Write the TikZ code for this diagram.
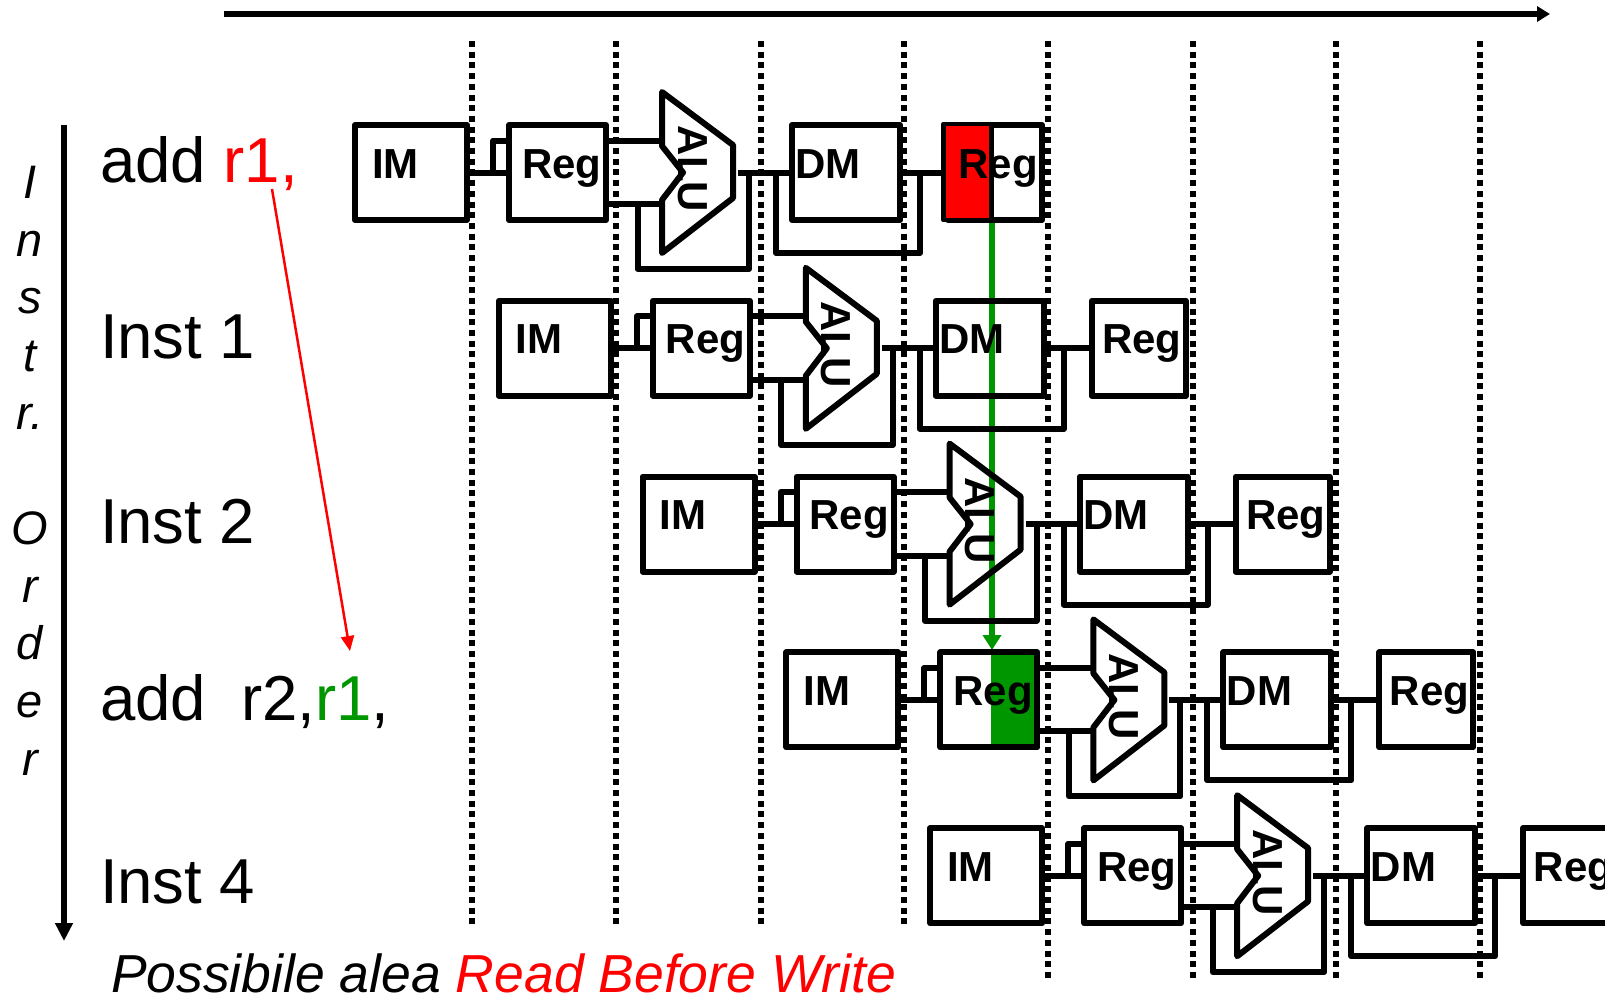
\documentclass[tikz,border=0pt]{standalone}
\usepackage{fontspec}
\setmainfont{Liberation Sans}
\usetikzlibrary{arrows.meta}
\definecolor{wred}{RGB}{255,0,0}
\definecolor{rgreen}{RGB}{0,150,0}
\begin{document}
\begin{tikzpicture}[x=1pt, y=-1pt, line width=6pt, line join=round,
    stage/.style = {draw, inner sep=0pt, minimum height=95pt},
    lab/.style = {anchor=base west, inner sep=0pt, font=\fontsize{42}{42}\selectfont\bfseries},
    instr/.style = {anchor=base west, inner sep=0pt, font=\fontsize{63.5}{64}\selectfont},
    clk/.style = {line width=6pt, dash pattern=on 6pt off 4.7pt}]
      \clip (0,0) rectangle (1605,996);
      % time and order
      \coordinate (t0) at (224,14);
      \coordinate (t1) at (1550,14);
      \coordinate (o0) at (64,125);
      \coordinate (o1) at (64,941);
      \draw[-{Triangle[length=13pt,width=15pt]}] (t0) -- (t1);
      \draw[-{Triangle[length=18pt,width=17pt]}] (o0) -- (o1);
      \node[inner sep=0pt, align=center, font=\fontsize{47}{57.7}\selectfont\itshape] (order) at (30,470.7)
        {I\\n\\s\\t\\r.\\\mbox{}\\O\\r\\d\\e\\r};
      \foreach \c/\x/\e in {1/472/926,2/616/926,3/760.5/926,4/904/926,5/1048/978,6/1192.5/978,7/1336/978,8/1480/978} {
        \coordinate (ca\c) at (\x,41);
        \coordinate (cb\c) at (\x,\e);
        \draw[clk] (ca\c) -- (cb\c);
      }
      % read half and data path
      \node[fill=rgreen, minimum width=49pt, minimum height=92pt, inner sep=0pt] (rd) at (1015.5,700) {};
      \coordinate (g0) at (992,222);
      \coordinate (g1) at (992,650);
      \draw[color=rgreen, -{Triangle[length=15pt,width=18pt]}] (g0) -- (g1);
      % five pipelines
      \foreach \r/\dx/\dy in {1/0/0, 2/143.8/175.8, 3/287.6/351.6, 4/431.4/527.4, 5/575.2/703.2} {
        \begin{scope}[shift={(\dx,\dy)}]
          \node[stage, minimum width=112pt] (IM\r) at (411,172.5) {};
          \node[stage, minimum width=97pt] (Reg\r) at (557.5,172.5) {};
          \node[stage, minimum width=108pt] (DM\r) at (846,172.5) {};
          \node[stage, minimum width=94pt] (Wb\r) at (995,172.5) {};
          \draw (662,92) -- (733,145) -- (733,198) -- (662,253) -- (662,200) -- (683,172.5) -- (662,146) -- cycle;
          \coordinate (in\r) at (662,140.5);
          \coordinate (ib\r) at (662,204);
          \coordinate (st\r) at (493,172.5);
          \coordinate (lo\r) at (637.5,204);
          \coordinate (lb\r) at (749,269);
          \coordinate (le\r) at (749,172.5);
          \coordinate (ou\r) at (738,172.5);
          \coordinate (fa\r) at (776,172.5);
          \coordinate (fb\r) at (920,253);
          \coordinate (fe\r) at (920,172.5);
          \draw (IM\r) -- (Reg\r);
          \draw (st\r) |- (Reg\r.west |- in\r);
          \draw (Reg\r.east |- in\r) -- (in\r);
          \draw (Reg\r.east |- ib\r) -- (ib\r);
          \draw (lo\r) |- (lb\r) -- (le\r);
          \draw (ou\r) -- (DM\r);
          \draw (fa\r) |- (fb\r) -- (fe\r);
          \draw (DM\r) -- (Wb\r);
        \end{scope}
      }
      % write half
      \node[fill=wred, draw, line width=4.5pt, minimum width=48pt, minimum height=96pt, inner sep=0pt] (wr) at (967.5,172) {};
      % stage names
      \foreach \r/\dx/\dy in {1/0/0, 2/143.8/175.8, 3/287.6/351.6, 4/431.4/527.4, 5/575.2/703.2} {
        \begin{scope}[shift={(\dx,\dy)}]
          \node[lab] (IMt\r) at (369,178) {IM};
          \node[lab] (Regt\r) at (519,178) {Reg};
          \node[lab] (DMt\r) at (792.5,178) {DM};
          \node[lab] (Wbt\r) at (955.5,178) {Reg};
          \node[lab, anchor=base, rotate=-90] (ALU\r) at (678,169) {ALU};
        \end{scope}
      }
      % instruction column
      \node[instr] (i1) at (97,182) {add \textcolor{red}{r1,}};
      \node[instr] (i2) at (97,358) {Inst 1};
      \node[instr] (i3) at (97,543.5) {Inst 2};
      \node[instr] (i4) at (97,720) {add~~r2,\textcolor{rgreen}{r1},};
      \node[instr] (i5) at (97,903) {Inst 4};
      \coordinate (d0) at (272,189);
      \coordinate (d1) at (350,651);
      \draw[red, line width=2.5pt, -{Triangle[length=15pt,width=13pt]}] (d0) -- (d1);
      \node[anchor=base west, inner sep=0pt, font=\fontsize{53.5}{54}\selectfont\itshape] (note) at (108,992)
        {Possibile alea \textcolor{red}{Read Before Write}};
    \end{tikzpicture}
\end{document}
